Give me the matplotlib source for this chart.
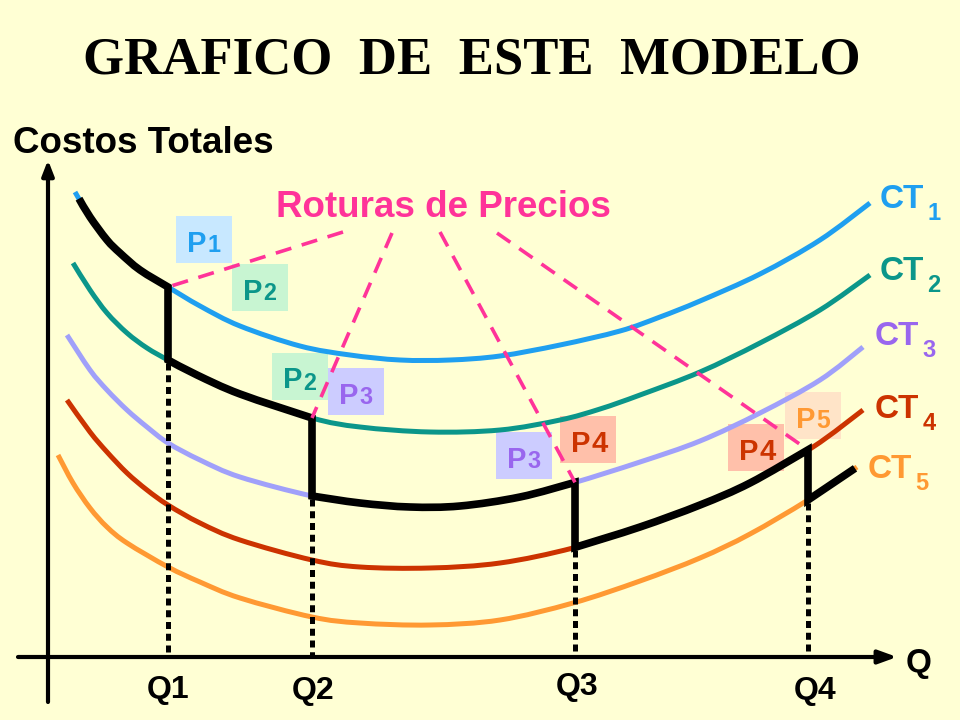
import numpy as np
import matplotlib
matplotlib.use("Agg")
import matplotlib.pyplot as plt
from matplotlib.patches import Rectangle, PathPatch
from matplotlib.path import Path

# ---------------- data (pixel-like units) ----------------
ct1_x = [75, 90, 107, 120, 140, 168, 200, 240, 300, 350, 400, 450, 500, 560, 620, 660, 700, 760, 820, 870]
ct1_y = [192, 217, 240, 253, 270, 287, 306, 326, 346, 355, 360, 360, 356, 345, 331, 317, 301, 274, 240, 203]

ct2_x = [73, 90, 107, 127, 147, 168, 197, 240, 312, 360, 430, 500, 560, 600, 640, 700, 760, 820, 870]
ct2_y = [263, 290, 313, 333, 348, 360, 375, 394, 418, 427, 432, 430, 420, 409, 395, 372, 343, 310, 275]

ct3_x = [67, 90, 107, 127, 147, 168, 200, 240, 312, 360, 410, 460, 520, 573, 640, 700, 760, 820, 863]
ct3_y = [335, 370, 390, 410, 427, 443, 460, 477, 496, 503, 507, 506, 497, 483, 462, 441, 413, 380, 347]

ct4_x = [67, 90, 107, 127, 147, 168, 200, 240, 312, 360, 430, 500, 573, 640, 700, 750, 813, 863]
ct4_y = [400, 432, 452, 473, 490, 505, 523, 540, 560, 567, 568, 563, 548, 527, 505, 483, 447, 410]

ct5_x = [58, 73, 90, 107, 127, 168, 200, 240, 312, 360, 430, 500, 573, 640, 700, 750, 808, 857]
ct5_y = [455, 483, 508, 527, 543, 567, 582, 598, 617, 623, 625, 620, 603, 581, 558, 534, 500, 467]

curve_names = ["CT", "CT", "CT", "CT", "CT"]
curve_subs = ["1", "2", "3", "4", "5"]
q_breaks = [168, 312, 575, 808]
q_labels = ["Q1", "Q2", "Q3", "Q4"]
envelope_start = 79
envelope_end = 855

price_labels = ["P", "P", "P", "P", "P", "P", "P", "P"]
price_subs = ["1", "2", "2", "3", "3", "4", "4", "5"]

title = "GRAFICO  DE  ESTE  MODELO"
y_title = "Costos Totales"
x_title = "Q"
note = "Roturas de Precios"

# ---------------- styles / layout ----------------
BG = "#ffffd4"
curve_colors = ["#1f9ff0", "#0b968a", "#a0a0fa", "#cc3300", "#ff9933"]
label_colors = ["#1f9ff0", "#0b968a", "#9966ee", "#cc3300", "#ff9933"]
PINK = "#ff3399"
SANS = ["Liberation Sans", "DejaVu Sans"]
SERIF = ["Liberation Serif", "DejaVu Serif"]

curves = [(ct1_x, ct1_y), (ct2_x, ct2_y), (ct3_x, ct3_y), (ct4_x, ct4_y), (ct5_x, ct5_y)]


def cval(i, x):
    cx, cy = curves[i]
    return float(np.interp(x, cx, cy))


def smooth_path(xs, ys, start=True):
    """Catmull-Rom style cubic Bezier path through the given points."""
    p = np.column_stack([xs, ys]).astype(float)
    n = len(p)
    verts, codes = [p[0]], [Path.MOVETO if start else Path.LINETO]
    for k in range(n - 1):
        p0 = p[k - 1] if k > 0 else p[k]
        p1, p2 = p[k], p[k + 1]
        p3 = p[k + 2] if k + 2 < n else p[k + 1]
        c1 = p1 + (p2 - p0) / 6.0
        c2 = p2 - (p3 - p1) / 6.0
        verts += [c1, c2, p2]
        codes += [Path.CURVE4] * 3
    return verts, codes


fig = plt.figure(figsize=(9.6, 7.2), dpi=100, facecolor=BG)
ax = fig.add_axes([0, 0, 1, 1])
ax.set_facecolor(BG)
ax.set_xlim(0, 960)
ax.set_ylim(720, 0)
ax.axis("off")

# cost curves
for (cx, cy), col in zip(curves, curve_colors):
    v, c = smooth_path(cx, cy)
    ax.add_patch(PathPatch(Path(v, c), facecolor="none", edgecolor=col, lw=3.6,
                           capstyle="butt", zorder=3))

# black envelope (lowest-cost path with vertical jumps at price breaks)
bounds = [envelope_start] + q_breaks + [envelope_end]
ev, ec = [], []
for i in range(5):
    a, b = bounds[i], bounds[i + 1]
    cx, cy = curves[i]
    xs = [a] + [x for x in cx if a + 4 < x < b - 4] + [b]
    ys = [cval(i, x) for x in xs]
    v, c = smooth_path(xs, ys, start=(i == 0))
    ev += v
    ec += c
ax.add_patch(PathPatch(Path(ev, ec), facecolor="none", edgecolor="black", lw=5.5,
                       joinstyle="miter", capstyle="butt", zorder=5))

# dotted drops to the quantity axis
axis_y = 657
for i, q in enumerate(q_breaks):
    ax.plot([q, q], [cval(i + 1, q) + 3, axis_y], color="black", lw=3.6,
            linestyle=(0, (1.4, 0.95)), dash_capstyle="butt", zorder=4)

# axes with arrows
ax.annotate("", xy=(48, 160), xytext=(48, 702),
            arrowprops=dict(arrowstyle="-|>,head_length=0.9,head_width=0.35",
                            lw=3, color="black", shrinkA=0, shrinkB=0), zorder=6)
ax.annotate("", xy=(897, axis_y), xytext=(18, axis_y),
            arrowprops=dict(arrowstyle="-|>,head_length=1.1,head_width=0.4",
                            lw=3, color="black", shrinkA=0, shrinkB=0), zorder=6)

# price boxes
box_pos = [(176, 216), (232, 264), (272, 353), (328, 368),
           (496, 432), (560, 416), (728, 424), (785, 392)]
box_fill = ["#c8e8ff", "#c8f5d2", "#c8f5d2", "#ccccff",
            "#ccccff", "#ffc0aa", "#ffc0aa", "#ffe4c8"]
box_text = ["#1f9ff0", "#0b968a", "#0b968a", "#9966ee",
            "#9966ee", "#cc3300", "#cc3300", "#ff9933"]
digit_scale = [0.8, 0.8, 0.8, 0.8, 0.8, 1.0, 1.0, 0.85]
BW, BH = 56, 47
for (bx, by), fill, tc, p, d, sc in zip(box_pos, box_fill, box_text,
                                        price_labels, price_subs, digit_scale):
    ax.add_patch(Rectangle((bx, by), BW, BH, facecolor=fill, edgecolor="none", zorder=2))
    t = ax.text(bx + 11, by + BH / 2 + 12, p, color=tc, fontsize=21, fontweight="bold",
                family=SANS, ha="left", va="baseline", zorder=8)
    ax.annotate(d, xy=(1, 0), xycoords=t, xytext=(0.5, 0), textcoords="offset points",
                color=tc, fontsize=21 * sc, fontweight="bold", family=SANS,
                ha="left", va="bottom", zorder=8)

# dashed lines from the "Roturas de Precios" note to the break points
note_starts = [(343, 232), (392, 233), (440, 232), (497, 233)]
for (sx, sy), i, q in zip(note_starts, range(4), q_breaks):
    ax.plot([sx, q], [sy, cval(i, q)], color=PINK, lw=2.6,
            linestyle=(0, (4.5, 3)), dash_capstyle="butt", zorder=7)

# curve labels
ct_pos = [(880, 208), (880, 280), (875, 345), (875, 418), (868, 478)]
for (x, y), name, sub, col in zip(ct_pos, curve_names, curve_subs, label_colors):
    t = ax.text(x, y, name, color=col, fontsize=24, fontweight="bold",
                family=SANS, ha="left", va="baseline", zorder=8)
    ax.annotate(sub, xy=(1, 0), xycoords=t, xytext=(2, -7), textcoords="offset points",
                color=col, fontsize=17, fontweight="bold", family=SANS,
                ha="left", va="bottom", zorder=8)

# quantity labels
q_lab_pos = [(168, 698), (313, 699), (577, 695), (815, 699)]
for (x, y), lab in zip(q_lab_pos, q_labels):
    ax.text(x, y, lab, color="black", fontsize=23, fontweight="bold", family=SANS,
            ha="center", va="baseline", zorder=8)

ax.text(919, 672, x_title, color="black", fontsize=24, fontweight="bold", family=SANS,
        ha="center", va="baseline", zorder=8)
ax.text(13, 153, y_title, color="black", fontsize=26.5, fontweight="bold", family=SANS,
        ha="left", va="baseline", zorder=8)
ax.text(443, 217, note, color=PINK, fontsize=26.5, fontweight="bold", family=SANS,
        ha="center", va="baseline", zorder=8)
ax.text(472, 73, title, color="black", fontsize=38, fontweight="bold", family=SERIF,
        ha="center", va="baseline", zorder=8)

fig.savefig("out.png", dpi=100, facecolor=BG)
